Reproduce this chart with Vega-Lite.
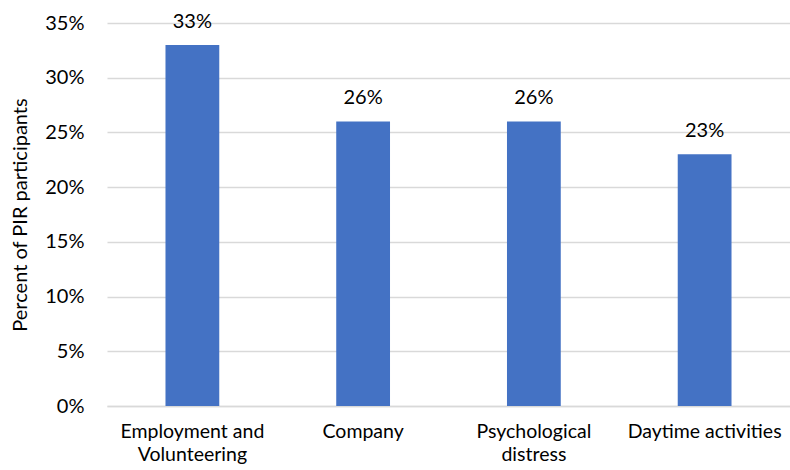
{
  "$schema": "https://vega.github.io/schema/vega-lite/v6.json",
  "autosize": {"type": "none"},
  "padding": {"left": 107, "top": 23, "right": 0, "bottom": 64},
  "width": 683,
  "height": 383,
  "background": "white",
  "config": {
    "view": {"stroke": null},
    "font": "Lato"
  },
  "data": {
    "values": [
      {"category": "Employment and Volunteering", "value": 0.33},
      {"category": "Company", "value": 0.26},
      {"category": "Psychological distress", "value": 0.26},
      {"category": "Daytime activities", "value": 0.23}
    ]
  },
  "encoding": {
    "x": {
      "field": "category",
      "type": "nominal",
      "sort": null,
      "scale": {"paddingInner": 0.685, "paddingOuter": 0.3425},
      "axis": {
        "title": null,
        "labelAngle": 0,
        "labelFontSize": 19.5,
        "labelColor": "#000000",
        "labelPadding": 16,
        "labelLineHeight": 23,
        "labelBaseline": "top",
        "ticks": false,
        "domainColor": "#d9d9d9",
        "domainWidth": 1.5,
        "labelExpr": "datum.value == 'Employment and Volunteering' ? ['Employment and', 'Volunteering'] : datum.value == 'Psychological distress' ? ['Psychological', 'distress'] : datum.value"
      }
    },
    "y": {
      "field": "value",
      "type": "quantitative",
      "scale": {"domain": [0, 0.35], "nice": false},
      "axis": {
        "title": "Percent of PIR participants",
        "titleFontSize": 20,
        "titleFontWeight": "normal",
        "titleColor": "#000000",
        "titlePadding": 14,
        "format": ".0%",
        "values": [0, 0.05, 0.1, 0.15, 0.2, 0.25, 0.3, 0.35],
        "labelFontSize": 20,
        "labelColor": "#000000",
        "labelPadding": 23,
        "ticks": false,
        "domain": false,
        "gridColor": "#d9d9d9",
        "gridWidth": 1.5
      }
    }
  },
  "layer": [
    {"mark": {"type": "bar", "color": "#4472C4"}},
    {
      "mark": {"type": "text", "fontSize": 20, "color": "#000000", "baseline": "alphabetic", "dy": -17},
      "encoding": {"text": {"field": "value", "type": "quantitative", "format": ".0%"}}
    }
  ]
}
